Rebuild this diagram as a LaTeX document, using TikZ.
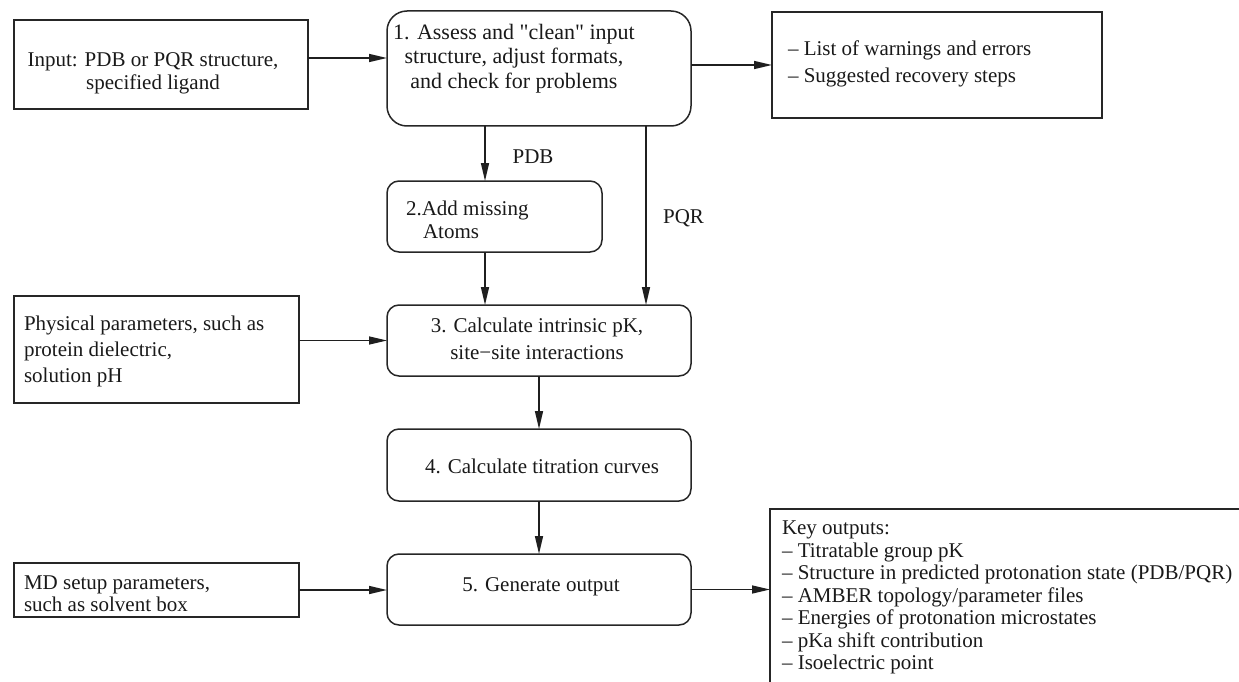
\documentclass[tikz,border=0pt]{standalone}
\usepackage{fontspec}
\setmainfont{Liberation Serif}[Ligatures=TeXOff]
\usetikzlibrary{arrows.meta}
\begin{document}
\begin{tikzpicture}[x=1pt,y=-1pt,
  every node/.style={inner sep=0pt,outer sep=0pt},
  sqbox/.style={draw=black!85,line width=1.8pt,rectangle},
  rbox/.style={draw=black!85,line width=1.5pt,rectangle,rounded corners=12pt},
  txt/.style={text=black!90},
  arr/.style={line width=1.5pt,draw=black!88,-{Triangle[length=18pt,width=8pt]}},
]
\useasboundingbox (0,0) rectangle (1239,682);
\clip (0,0) rectangle (1239,682);
% boxes
\node[sqbox,minimum width=294pt,minimum height=89pt] (in) at (161,64.5) {};
\node[rbox,rounded corners=20pt,minimum width=304pt,minimum height=115pt] (b1) at (539,68.5) {};
\node[sqbox,minimum width=330pt,minimum height=106pt] (rb) at (937,65) {};
\node[rbox,minimum width=215pt,minimum height=71pt] (b2) at (494.5,216.5) {};
\node[sqbox,minimum width=285pt,minimum height=107pt] (ph) at (156.5,349.5) {};
\node[rbox,minimum width=304pt,minimum height=71pt] (b3) at (539,340.5) {};
\node[rbox,minimum width=304pt,minimum height=72pt] (b4) at (539,465) {};
\node[rbox,minimum width=304pt,minimum height=71pt] (b5) at (539,589.5) {};
\node[sqbox,minimum width=285pt,minimum height=54pt] (md) at (156.5,590) {};
\node[sqbox,minimum width=490pt,minimum height=211pt] (kb) at (1015,614.5) {};
% texts
\node[txt,align=center,font=\fontsize{21}{23}\selectfont] (tin) at (153,73.5) {Input: PDB or PQR structure,\\specified ligand};
\node[txt,align=center,font=\fontsize{22}{24.5}\selectfont] (tb1) at (514,58.5) {1. Assess and "clean" input\\structure, adjust formats,\\and check for problems};
\node[txt,align=left,anchor=west,font=\fontsize{21}{27}\selectfont] (trb) at (788,63.5) {– List of warnings and errors\\– Suggested recovery steps};
\node[txt,font=\fontsize{21}{24}\selectfont] (lpdb) at (533,157) {PDB};
\node[txt,font=\fontsize{21}{24}\selectfont] (lpqr) at (683.5,218) {PQR};
\node[txt,align=left,anchor=west,font=\fontsize{21}{23}\selectfont] (tb2) at (406,219.5) {2.Add missing\\\hspace*{17pt}Atoms};
\node[txt,align=left,anchor=west,font=\fontsize{21}{26}\selectfont] (tph) at (24,351) {Physical parameters, such as\\protein dielectric,\\solution pH};
\node[txt,align=center,font=\fontsize{21}{27}\selectfont] (tb3) at (537,338.5) {3. Calculate intrinsic pK,\\site−site interactions};
\node[txt,font=\fontsize{21}{24}\selectfont] (tb4) at (542,466) {4. Calculate titration curves};
\node[txt,font=\fontsize{21}{24}\selectfont] (tb5) at (541,587) {5. Generate output};
\node[txt,align=left,anchor=west,font=\fontsize{21}{22}\selectfont] (tmd) at (24,594) {MD setup parameters,\\such as solvent box};
\node[txt,align=left,anchor=west,font=\fontsize{21}{22.5}\selectfont] (tkb) at (782,597.5) {Key outputs:\\– Titratable group pK\\– Structure in predicted protonation state (PDB/PQR)\\– AMBER topology/parameter files\\– Energies of protonation microstates\\– pKa shift contribution\\– Isoelectric point};
% connectors
\draw[arr] ([yshift=6.5pt]in.east) -- ([yshift=6.5pt]in.east -| b1.west);
\draw[arr] (b1.east |- rb.west) -- (rb.west);
\draw[arr] ([xshift=-9.5pt]b2.north |- b1.south) -- ([xshift=-9.5pt]b2.north);
\draw[arr] ([xshift=-9.5pt]b2.south) -- ([xshift=-9.5pt]b2.south |- b3.north);
\draw[arr] ([xshift=107pt]b1.south) -- ([xshift=107pt]b3.north);
\draw[arr] (ph.east |- b3.west) -- (b3.west);
\draw[arr] (b3.south) -- (b4.north);
\draw[arr] (b4.south) -- (b5.north);
\draw[arr] (md.east) -- (md.east -| b5.west);
\draw[arr] (b5.east) -- (b5.east -| kb.west);
\end{tikzpicture}
\end{document}
